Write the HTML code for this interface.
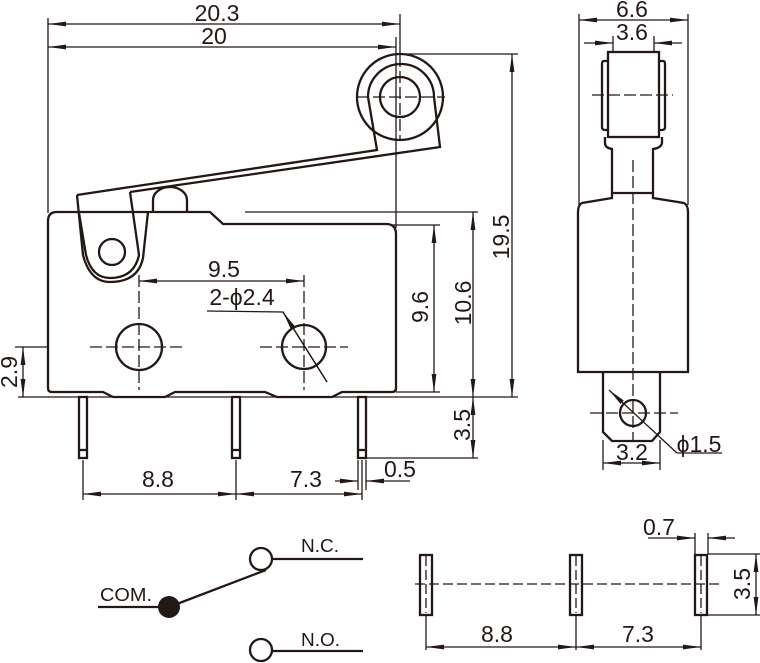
<!DOCTYPE html>
<html><head><meta charset="utf-8"><style>
html,body{margin:0;padding:0;background:#fff;}
svg{display:block;}
text{font-family:"Liberation Sans",sans-serif;fill:#231815;}
</style></head><body>
<svg width="760" height="663" viewBox="0 0 760 663" xmlns="http://www.w3.org/2000/svg">
<defs>
<marker id="a" markerUnits="userSpaceOnUse" markerWidth="18" markerHeight="6" refX="18" refY="3" orient="auto-start-reverse">
<path d="M0,0.6 L18,3 L0,5.4 Z" fill="#231815"/></marker>
</defs>
<g stroke="#231815" fill="none" stroke-width="1.3">
<line x1="48" y1="18" x2="48" y2="213"/>
<line x1="400" y1="14" x2="400" y2="55"/>
<line x1="396" y1="37" x2="396" y2="228"/>
<line x1="48" y1="24" x2="400" y2="24" marker-start="url(#a)" marker-end="url(#a)"/>
<line x1="48" y1="47" x2="396" y2="47" marker-start="url(#a)" marker-end="url(#a)"/>
<line x1="400" y1="54" x2="518" y2="54"/>
<line x1="512" y1="54" x2="512" y2="397" marker-start="url(#a)" marker-end="url(#a)"/>
<line x1="245" y1="212" x2="478" y2="212"/>
<line x1="473" y1="212" x2="473" y2="397" marker-start="url(#a)" marker-end="url(#a)"/>
<line x1="392" y1="225" x2="440" y2="225"/>
<line x1="396" y1="392" x2="440" y2="392"/>
<line x1="434" y1="225" x2="434" y2="392" marker-start="url(#a)" marker-end="url(#a)"/>
<line x1="18" y1="397" x2="518" y2="397"/>
<line x1="473" y1="397" x2="473" y2="458" marker-start="url(#a)" marker-end="url(#a)"/>
<line x1="362" y1="458" x2="478" y2="458"/>
<line x1="15" y1="347" x2="48" y2="347"/>
<line x1="23" y1="347" x2="23" y2="397" marker-start="url(#a)" marker-end="url(#a)"/>
<line x1="139" y1="281" x2="304" y2="281" marker-start="url(#a)" marker-end="url(#a)"/>
<polyline points="207,311 283,312 327,382"/>
<line x1="83" y1="460" x2="83" y2="500"/>
<line x1="236" y1="460" x2="236" y2="500"/>
<line x1="362" y1="460" x2="362" y2="500"/>
<line x1="358" y1="460" x2="358" y2="490"/>
<line x1="366" y1="460" x2="366" y2="490"/>
<line x1="83" y1="494" x2="236" y2="494" marker-start="url(#a)" marker-end="url(#a)"/>
<line x1="236" y1="494" x2="362" y2="494" marker-start="url(#a)" marker-end="url(#a)"/>
<line x1="335" y1="481" x2="358" y2="481" marker-end="url(#a)"/>
<line x1="410" y1="481" x2="366" y2="481" marker-end="url(#a)"/>
<g stroke-dasharray="12,4">
<line x1="90" y1="347" x2="183" y2="347"/>
<line x1="260" y1="347" x2="348" y2="347"/>
<line x1="139" y1="275" x2="139" y2="390"/>
<line x1="304" y1="275" x2="304" y2="390"/>
<line x1="357" y1="97" x2="445" y2="97"/>
<line x1="400" y1="55" x2="400" y2="140"/>
</g>
</g>
<g stroke="#231815" fill="none" stroke-width="2.3">
<path d="M48,221 Q48,212 57,212 L210,212 L223,224 L386,224 Q396,224 396,234 L396,388 Q396,392 392,392 L342,392 L332,397 L277,397 L265,392 L175,392 L165,397 L113,397 L103,392 L52,392 Q48,392 48,388 Z"/>
<path d="M153,212 L153,200 A17,13 0 0 1 187,200 L187,212"/>
<path d="M77,195 L377,150 L368,97 A33,33 0 0 1 434,97 L440,147 L130,192"/>
<path d="M77,195 L83,255 Q90,282 110,282 Q138,282 143,258 L148,212"/>
<path d="M79,213 L86,255 Q92,278 110,278 Q134,278 139,255 L130,192"/>
<circle cx="112" cy="252" r="13"/>
<circle cx="400" cy="97" r="43"/>
<circle cx="400" cy="97" r="20"/>
<circle cx="139" cy="347" r="23"/>
<circle cx="304" cy="347" r="22"/>
<rect x="79" y="397" width="8" height="61"/><line x1="79" y1="450" x2="87" y2="450"/>
<rect x="232" y="397" width="8" height="61"/><line x1="232" y1="450" x2="240" y2="450"/>
<rect x="358" y="397" width="8" height="61"/><line x1="358" y1="450" x2="366" y2="450"/>
</g>
<line x1="283" y1="312" x2="327" y2="382" stroke="#231815" stroke-width="1.3" marker-start="url(#a)"/>

<g stroke="#231815" fill="none" stroke-width="1.3">
<line x1="579" y1="14" x2="579" y2="205"/>
<line x1="688" y1="14" x2="688" y2="205"/>
<line x1="579" y1="20" x2="688" y2="20" marker-start="url(#a)" marker-end="url(#a)"/>
<line x1="613" y1="36" x2="613" y2="52"/>
<line x1="654" y1="36" x2="654" y2="52"/>
<line x1="584" y1="43" x2="613" y2="43" marker-end="url(#a)"/>
<line x1="682" y1="43" x2="654" y2="43" marker-end="url(#a)"/>
<line x1="603" y1="440" x2="603" y2="470"/>
<line x1="660" y1="440" x2="660" y2="470"/>
<line x1="603" y1="463" x2="660" y2="463" marker-start="url(#a)" marker-end="url(#a)"/>
<polyline points="677,453 722,453"/>
<line x1="609" y1="390" x2="677" y2="453" marker-start="url(#a)"/>
<g stroke-dasharray="12,4">
<line x1="633" y1="160" x2="633" y2="440"/>
<line x1="592" y1="95" x2="673" y2="95"/>
<line x1="590" y1="413" x2="678" y2="413"/>
</g>
</g>
<g stroke="#231815" fill="none" stroke-width="2.3">
<rect x="608" y="52" width="51" height="85"/>
<path d="M608,61 L604,61 Q602,61 602,64 L602,127 Q602,130 605,130 L608,130"/>
<path d="M659,61 L663,61 Q665,61 665,64 L665,127 Q665,130 662,130 L659,130"/>
<path d="M605,137 L605,143 Q605,148 612,149 L612,198 L582,203 Q578,205 578,212 L578,372 L688,372 L688,212 Q688,205 684,203 L653,198 L653,149 Q661,148 662,143 L662,137"/>
<line x1="612" y1="193" x2="653" y2="193"/>
<path d="M603,372 L603,432 L612,441 L652,441 L660,432 L660,372"/>
<circle cx="633" cy="413" r="13"/>
</g>

<g stroke="#231815" fill="none" stroke-width="2.3">
<circle cx="261" cy="559" r="11"/>
<line x1="272" y1="559" x2="363" y2="559"/>
<circle cx="261" cy="650" r="11"/>
<line x1="272" y1="651" x2="363" y2="651"/>
<line x1="98" y1="607" x2="169" y2="607"/>
<line x1="169" y1="607" x2="266" y2="570"/>
</g>
<circle cx="169" cy="607" r="11" fill="#231815"/>

<g stroke="#231815" fill="none" stroke-width="1.3">
<line x1="426" y1="615" x2="426" y2="650"/>
<line x1="576" y1="615" x2="576" y2="650"/>
<line x1="701" y1="615" x2="701" y2="650"/>
<line x1="426" y1="647" x2="576" y2="647" marker-start="url(#a)" marker-end="url(#a)"/>
<line x1="576" y1="647" x2="701" y2="647" marker-start="url(#a)" marker-end="url(#a)"/>
<line x1="695" y1="533" x2="695" y2="554"/>
<line x1="708" y1="533" x2="708" y2="554"/>
<line x1="648" y1="538" x2="695" y2="538" marker-end="url(#a)"/>
<line x1="735" y1="538" x2="708" y2="538" marker-end="url(#a)"/>
<line x1="708" y1="554" x2="760" y2="554"/>
<line x1="708" y1="615" x2="760" y2="615"/>
<line x1="756" y1="554" x2="756" y2="615" marker-start="url(#a)" marker-end="url(#a)"/>
<g stroke-dasharray="10,4">
<line x1="415" y1="584" x2="720" y2="584"/>
<line x1="426" y1="556" x2="426" y2="613"/>
<line x1="576" y1="556" x2="576" y2="613"/>
<line x1="701" y1="556" x2="701" y2="613"/>
</g>
</g>
<g stroke="#231815" fill="none" stroke-width="2.3">
<rect x="420" y="555" width="12" height="60"/>
<rect x="570" y="555" width="12" height="60"/>
<rect x="695" y="555" width="12" height="60"/>
</g>

<g font-size="23" text-anchor="middle">
<text x="217" y="21">20.3</text>
<text x="214" y="44">20</text>
<text x="224" y="277">9.5</text>
<text x="242" y="305">2-ϕ2.4</text>
<text x="158" y="487">8.8</text>
<text x="306" y="487">7.3</text>
<text x="400" y="477">0.5</text>
<text transform="translate(428,307) rotate(-90)">9.6</text>
<text transform="translate(471,303) rotate(-90)">10.6</text>
<text transform="translate(509,237) rotate(-90)">19.5</text>
<text transform="translate(470,425) rotate(-90)">3.5</text>
<text transform="translate(17,372) rotate(-90)">2.9</text>
<text x="632" y="17">6.6</text>
<text x="632" y="40">3.6</text>
<text x="632" y="460">3.2</text>
<text x="699" y="452">ϕ1.5</text>
<text x="659" y="535">0.7</text>
<text x="497" y="642">8.8</text>
<text x="638" y="642">7.3</text>
<text transform="translate(750,584) rotate(-90)">3.5</text>
</g>
<g font-size="18">
<text x="301" y="552" textLength="38" lengthAdjust="spacingAndGlyphs">N.C.</text>
<text x="100" y="601" textLength="52" lengthAdjust="spacingAndGlyphs">COM.</text>
<text x="301" y="646" textLength="39" lengthAdjust="spacingAndGlyphs">N.O.</text>
</g>
</svg>
</body></html>
